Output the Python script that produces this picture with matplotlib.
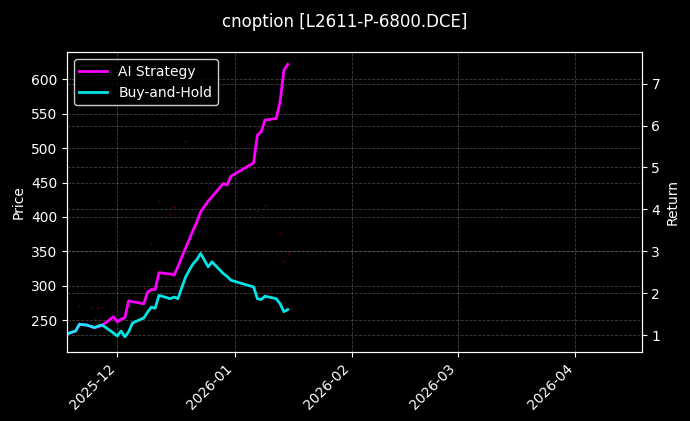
import numpy as np
import pandas as pd
import matplotlib
matplotlib.use('Agg')
import matplotlib.pyplot as plt
import matplotlib.dates as mdates

# days relative to 2025-12-01
days = [-13, -11, -10, -8, -6, -5, -4, -3, -1, 0, 1, 2, 3, 4, 7, 8, 9, 10, 11, 14, 15, 16,
        18, 19, 20, 21, 22, 24, 25, 28, 29, 30, 36, 37, 38, 39, 42, 43, 44, 45]
bh_ret = [1.04, 1.10, 1.26, 1.24, 1.18, 1.22, 1.24, 1.18, 1.05, 0.98, 1.10, 0.96, 1.08, 1.29,
          1.41, 1.55, 1.67, 1.64, 1.95, 1.87, 1.91, 1.87, 2.38, 2.55, 2.70, 2.80, 2.95, 2.63,
          2.75, 2.47, 2.40, 2.31, 2.15, 1.87, 1.85, 1.93, 1.87, 1.75, 1.56, 1.61]
ai_ret = [1.04, 1.10, 1.26, 1.24, 1.18, 1.20, 1.24, 1.30, 1.44, 1.32, 1.38, 1.42, 1.82, 1.80,
          1.75, 2.03, 2.09, 2.09, 2.49, 2.46, 2.43, 2.63, 3.07, 3.28, 3.50, 3.70, 3.94, 4.20,
          4.30, 4.62, 4.58, 4.79, 5.11, 5.77, 5.85, 6.13, 6.17, 6.57, 7.32, 7.46]

price_days = [-10, -7, -6, -5, -4, 7, 8, 9, 11, 14, 15, 18, 28, 30, 36, 37, 38, 39, 43, 44, 45]
price = [270, 269, 252, 267, 269, 296, 304, 360, 423, 404, 414, 511, 538, 504, 471, 409, 403,
         417, 377, 336, 348]

base = pd.Timestamp('2025-12-01')
dates = [base + pd.Timedelta(days=d) for d in days]
pdates = [base + pd.Timedelta(days=d) for d in price_days]

plt.style.use('dark_background')
fig = plt.figure(figsize=(6.9, 4.21), dpi=100, facecolor='black')
ax = fig.add_axes([0.097, 0.164, 0.833, 0.712])
ax.set_facecolor('black')
ax.scatter(pdates, price, s=1.5, color='#a00000', alpha=0.7, linewidths=0)
ax.set_ylabel('Price')
ax.set_ylim(203.5, 639.7)
ax.grid(True, linestyle='--', color='gray', alpha=0.5, linewidth=0.6)

ax2 = ax.twinx()
ax2.plot(dates, ai_ret, color='#ff00ff', lw=2, label='AI Strategy')
ax2.plot(dates, bh_ret, color='#00ffff', lw=2, alpha=0.9, label='Buy-and-Hold')
ax2.set_ylabel('Return')
ax2.set_ylim(0.6, 7.75)
ax2.grid(True, linestyle='--', color='gray', alpha=0.5, linewidth=0.6)
ax2.legend(loc='upper left', facecolor='black', edgecolor='white')

ax.set_xlim(base + pd.Timedelta(days=-13.3), base + pd.Timedelta(days=138.5))
ax.xaxis.set_major_locator(mdates.MonthLocator())
ax.xaxis.set_major_formatter(mdates.DateFormatter('%Y-%m'))
plt.setp(ax.get_xticklabels(), rotation=45, ha='right')

fig.suptitle('cnoption [L2611-P-6800.DCE]', y=0.97, fontsize=12)
fig.savefig('out.png', dpi=100, facecolor='black')
